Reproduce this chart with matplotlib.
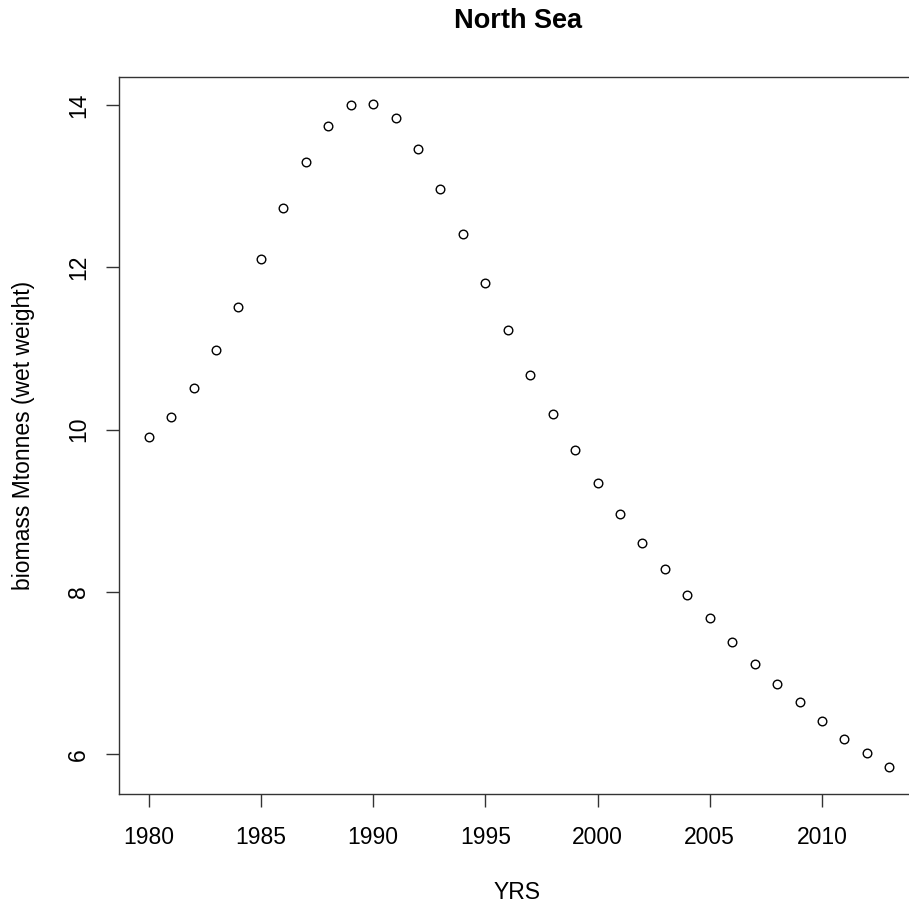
import matplotlib
matplotlib.use("Agg")
import matplotlib.pyplot as plt

years = list(range(1980, 2014))
biomass = [9.905, 10.156, 10.514, 10.975, 11.514, 12.103, 12.728, 13.296, 13.745, 14.0,
           14.016, 13.835, 13.461, 12.963, 12.407, 11.802, 11.23, 10.675, 10.198, 9.749,
           9.337, 8.959, 8.605, 8.28, 7.963, 7.679, 7.391, 7.12, 6.873, 6.642,
           6.407, 6.193, 6.016, 5.84]
xticks = [1980, 1985, 1990, 1995, 2000, 2005, 2010]
yticks = [6, 8, 10, 12, 14]

plt.rcParams['font.family'] = ['Liberation Sans', 'DejaVu Sans']
W = 909
fig = plt.figure(figsize=(W/100, W/100), dpi=100)
left, right, top, bottom = 119, 919, 77, 794
ax = fig.add_axes([left/W, 1-bottom/W, (right-left)/W, (bottom-top)/W])
ax.plot(years, biomass, linestyle='none', marker='o', markersize=6.2,
        markerfacecolor='none', markeredgecolor='black', markeredgewidth=1.0)

xr = max(years) - min(years)
ax.set_xlim(min(years) - 0.04*xr, max(years) + 0.04*xr)
yr = max(biomass) - min(biomass)
ax.set_ylim(min(biomass) - 0.04*yr, max(biomass) + 0.04*yr)

FS = 16.5
ax.set_xticks(xticks)
ax.set_yticks(yticks)
ax.set_yticklabels([str(v) for v in yticks], rotation=90, va='center')
ax.tick_params(direction='out', length=9.4, width=1.0, labelsize=FS, color='#333333')
ax.tick_params(axis='x', pad=14)
ax.tick_params(axis='y', pad=11.5)
for s in ax.spines.values():
    s.set_linewidth(1.0)
    s.set_color('#333333')

h = bottom - top
wdt = right - left
ax.set_xlabel('YRS', fontsize=FS, va='center')
ax.xaxis.set_label_coords(0.5 - 1.5/wdt, -(892.5 - bottom) / h)
ax.set_ylabel('biomass Mtonnes (wet weight)', fontsize=FS, va='center')
ax.yaxis.set_label_coords(-(left - 23) / wdt, 0.5)
ax.set_title('North Sea', fontsize=19.5, fontweight='bold', va='center', pad=0,
             x=0.5 - 1/wdt, y=1 + (top - 21.5) / h)

fig.savefig('out.png', dpi=100)
